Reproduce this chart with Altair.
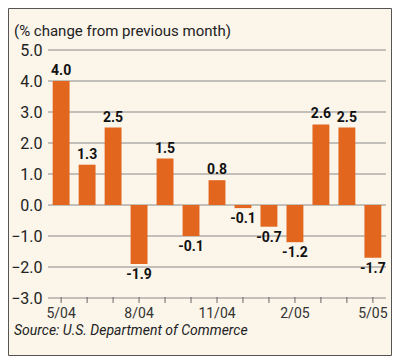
import altair as alt
import pandas as pd

months = ["5/04", "6/04", "7/04", "8/04", "9/04", "10/04", "11/04",
          "12/04", "1/05", "2/05", "3/05", "4/05", "5/05"]
values = [4.0, 1.3, 2.5, -1.9, 1.5, -1.0, 0.8, -0.1, -0.7, -1.2, 2.6, 2.5, -1.7]
labels = ["4.0", "1.3", "2.5", "-1.9", "1.5", "-0.1", "0.8", "-0.1", "-0.7",
          "-1.2", "2.6", "2.5", "-1.7"]
shown_months = ["5/04", "8/04", "11/04", "2/05", "5/05"]
y_ticks = [-3, -2, -1, 0, 1, 2, 3, 4, 5]

df = pd.DataFrame({"month": months, "value": values, "label": labels})
df["pos"] = df["value"] >= 0
grid_df = pd.DataFrame({"tick": y_ticks})
one = pd.DataFrame({"k": [0]})

FONT = "Roboto"
W, H = 338, 248

x = alt.X("month:N", sort=months, title=None,
          scale=alt.Scale(paddingInner=0.35, paddingOuter=0.18),
          axis=alt.Axis(
              labelExpr="indexof(['" + "','".join(shown_months) + "'], datum.label) >= 0 ? datum.label : ''",
              labelAngle=0, domain=False, ticks=False, labelFont=FONT, labelFontSize=14,
              labelColor="#333", labelPadding=8, labelOverlap=False))
yscale = alt.Scale(domain=[-3, 5], nice=False)
yaxis = alt.Axis(values=y_ticks, format=".1f", grid=False,
                 domain=False, ticks=False, labelFont=FONT, labelFontSize=16,
                 labelColor="#222", labelPadding=6, labelOverlap=False)
y = alt.Y("value:Q", title=None, scale=yscale, axis=yaxis)

grid = alt.Chart(grid_df).mark_rule(color="#8a8a8a", strokeWidth=1).encode(
    y=alt.Y("tick:Q", title=None, scale=yscale, axis=yaxis))

xticks = alt.Chart(df).mark_rule(color="#666", strokeWidth=1).encode(
    x=x, y=alt.value(H - 1), y2=alt.value(H + 5))

bars = alt.Chart(df).mark_bar(color="#e2661e").encode(x=x, y=y, y2=alt.datum(0))

lab_pos = alt.Chart(df).transform_filter("datum.pos").mark_text(
    font=FONT, fontSize=14, fontWeight="bold", baseline="bottom", dy=-3, color="#111"
).encode(x=x, y=y, text="label:N")

lab_neg = alt.Chart(df).transform_filter("!datum.pos").mark_text(
    font=FONT, fontSize=14, fontWeight="bold", baseline="top", dy=4, color="#111"
).encode(x=x, y=y, text="label:N")

title = alt.Chart(one).mark_text(
    font=FONT, fontSize=15, align="left", baseline="alphabetic", color="#222"
).encode(x=alt.value(-34), y=alt.value(-14), text=alt.value("(% change from previous month)"))

source = alt.Chart(one).mark_text(
    font=FONT, fontSize=14, fontStyle="italic", align="left", baseline="alphabetic", color="#222"
).encode(x=alt.value(-34), y=alt.value(285), text=alt.value("Source:  U.S. Department of Commerce"))

frame = alt.Chart(one).mark_rect(fill=None, stroke="#555", strokeWidth=1).encode(
    x=alt.value(-39.5), x2=alt.value(W + 5.5), y=alt.value(-41.5), y2=alt.value(H + 57.5))

chart = alt.layer(grid, xticks, bars, lab_pos, lab_neg, title, source, frame).properties(
    width=W, height=H,
    autosize=alt.AutoSizeParams(type="none"),
    padding={"left": 40, "top": 42, "right": 6, "bottom": 58},
    background="#fbf5ea",
).configure_view(stroke=None)

chart.save("out.html", embed_options={"renderer": "svg", "actions": False})
